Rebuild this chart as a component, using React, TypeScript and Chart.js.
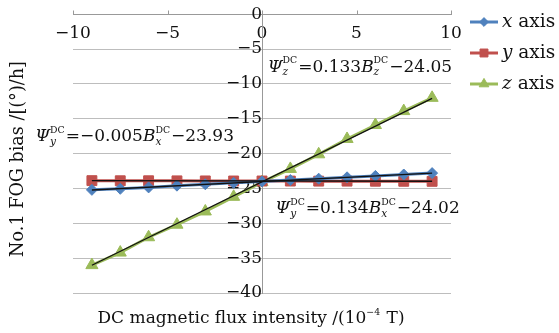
import React, { useEffect, useRef } from "react";
import { Chart, registerables } from "chart.js";
import { drawPoint } from "chart.js/helpers";

Chart.register(...registerables);

// ---- data ----
const fieldValues = [-9, -7.5, -6, -4.5, -3, -1.5, 0, 1.5, 3, 4.5, 6, 7.5, 9];
const xAxisBias = [-25.2, -25.05, -24.85, -24.6, -24.4, -24.2, -24.0, -23.8, -23.6, -23.4, -23.2, -23.0, -22.8];
const yAxisBias = [-23.88, -23.9, -23.9, -23.91, -23.92, -23.93, -23.93, -23.94, -23.95, -23.95, -23.96, -23.97, -23.98];
const zAxisBias = [-36.0, -34.2, -32.0, -30.2, -28.3, -26.2, -24.1, -22.2, -20.1, -17.9, -15.9, -13.9, -12.0];
const trendRange = [-9, 9];
const xTrend = [-25.22, -22.81];
const yTrend = [-23.89, -23.97];
const zTrend = [-36.02, -12.08];
const seriesNames = ["x", "y", "z"];
const xTickStep = 5;
const yTickStep = 5;

const FAMILY = '"DejaVu Serif", serif';
const TEXT = "#111";
const COLORS = ["#4F81BD", "#C0504D", "#9BBB59"];
const STYLES = ["rectRot", "rect", "triangle"];
const RADII = [5.5, 7, 7];

type Part = string | { it: string } | { sup?: string; sub?: string };

function drawRich(ctx: CanvasRenderingContext2D, x: number, y: number, parts: Part[], fs: number, align: "left" | "center" = "left") {
  const measure = () => {
    let w = 0;
    for (const p of parts) {
      if (typeof p === "string") {
        ctx.font = `${fs}px ${FAMILY}`;
        w += ctx.measureText(p).width;
      } else if ("it" in p) {
        ctx.font = `italic ${fs}px ${FAMILY}`;
        w += ctx.measureText(p.it).width;
      } else {
        ctx.font = `${fs * 0.55}px ${FAMILY}`;
        const w1 = p.sup ? ctx.measureText(p.sup).width : 0;
        ctx.font = `italic ${fs * 0.62}px ${FAMILY}`;
        const w2 = p.sub ? ctx.measureText(p.sub).width : 0;
        w += Math.max(w1, w2) + 1;
      }
    }
    return w;
  };
  let cx = align === "center" ? x - measure() / 2 : x;
  ctx.textBaseline = "middle";
  ctx.textAlign = "left";
  ctx.fillStyle = TEXT;
  for (const p of parts) {
    if (typeof p === "string") {
      ctx.font = `${fs}px ${FAMILY}`;
      ctx.fillText(p, cx, y);
      cx += ctx.measureText(p).width;
    } else if ("it" in p) {
      ctx.font = `italic ${fs}px ${FAMILY}`;
      ctx.fillText(p.it, cx, y);
      cx += ctx.measureText(p.it).width;
    } else {
      let w1 = 0;
      let w2 = 0;
      if (p.sup) {
        ctx.font = `${fs * 0.55}px ${FAMILY}`;
        ctx.fillText(p.sup, cx, y - fs * 0.38);
        w1 = ctx.measureText(p.sup).width;
      }
      if (p.sub) {
        ctx.font = `italic ${fs * 0.62}px ${FAMILY}`;
        ctx.fillText(p.sub, cx, y + fs * 0.3);
        w2 = ctx.measureText(p.sub).width;
      }
      cx += Math.max(w1, w2) + 1;
    }
  }
}

const annotations: { x: number; y: number; parts: Part[] }[] = [
  { x: 0.3, y: -7.6, parts: [{ it: "Ψ" }, { sup: "DC", sub: "z" }, "=0.133", { it: "B" }, { sup: "DC", sub: "z" }, "−24.05"] },
  { x: -12.0, y: -17.6, parts: [{ it: "Ψ" }, { sup: "DC", sub: "y" }, "=−0.005", { it: "B" }, { sup: "DC", sub: "x" }, "−23.93"] },
  { x: 0.7, y: -27.9, parts: [{ it: "Ψ" }, { sup: "DC", sub: "y" }, "=0.134", { it: "B" }, { sup: "DC", sub: "x" }, "−24.02"] },
];

const overlay = {
  id: "overlay",
  afterDraw(chart: any) {
    const ctx: CanvasRenderingContext2D = chart.ctx;
    const xs = chart.scales.x;
    const ys = chart.scales.y;
    ctx.save();
    // tick marks on x axis (pointing up)
    const y0 = Math.round(ys.getPixelForValue(0)) + 0.5;
    ctx.strokeStyle = "#999";
    ctx.lineWidth = 1;
    for (let v = xs.min; v <= xs.max; v += xTickStep) {
      const px = Math.round(xs.getPixelForValue(v)) + 0.5;
      ctx.beginPath();
      ctx.moveTo(px, y0);
      ctx.lineTo(px, y0 - 4);
      ctx.stroke();
    }
    // annotations
    for (const a of annotations) {
      drawRich(ctx, xs.getPixelForValue(a.x), ys.getPixelForValue(a.y), a.parts, 17);
    }
    // legend
    const lx = chart.chartArea.right + 19;
    seriesNames.forEach((n, i) => {
      const ly = 22 + i * 31;
      ctx.strokeStyle = COLORS[i];
      ctx.lineWidth = 3;
      ctx.beginPath();
      ctx.moveTo(lx, ly);
      ctx.lineTo(lx + 28, ly);
      ctx.stroke();
      ctx.fillStyle = COLORS[i];
      ctx.strokeStyle = COLORS[i];
      ctx.lineWidth = 1;
      drawPoint(ctx, { pointStyle: STYLES[i], radius: RADII[i] * 0.8, rotation: 0, borderWidth: 1 } as any, lx + 14, ly);
      drawRich(ctx, lx + 32, ly, [{ it: n }, " axis"], 18.5);
    });
    // axis titles
    drawRich(ctx, 251, 319, ["DC magnetic flux intensity /(10", { sup: "−4" }, " T)"], 17, "center");
    ctx.save();
    ctx.translate(18, 159);
    ctx.rotate(-Math.PI / 2);
    drawRich(ctx, 0, 0, ["No.1 FOG bias /[(°)/h]"], 17.6, "center");
    ctx.restore();
    ctx.restore();
  },
};

const fmt = (v: any) => (Number(v) < 0 ? "−" + Math.abs(Number(v)) : String(v));

export default function App() {
  const ref = useRef<HTMLCanvasElement | null>(null);
  useEffect(() => {
    if (!ref.current) return;
    const pts = (vals: number[]) => fieldValues.map((x, i) => ({ x, y: vals[i] }));
    const tr = (vals: number[]) => trendRange.map((x, i) => ({ x, y: vals[i] }));
    const series = [xAxisBias, yAxisBias, zAxisBias];
    const trends = [xTrend, yTrend, zTrend];
    const datasets: any[] = [];
    trends.forEach((t, i) => {
      datasets.push({
        label: seriesNames[i] + " trend",
        data: tr(t),
        showLine: true,
        borderColor: "#111",
        borderWidth: 1.3,
        pointRadius: 0,
        order: 0,
      });
    });
    series.forEach((s, i) => {
      datasets.push({
        label: seriesNames[i] + " axis",
        data: pts(s),
        showLine: true,
        borderColor: COLORS[i],
        backgroundColor: COLORS[i],
        borderWidth: 3,
        pointStyle: STYLES[i],
        pointRadius: RADII[i],
        pointBorderWidth: 1,
        order: 1,
      });
    });
    const chart = new Chart(ref.current, {
      type: "scatter",
      data: { datasets },
      plugins: [overlay],
      options: {
        animation: false,
        responsive: false,
        devicePixelRatio: 1,
        layout: { padding: { left: 73, right: 108, top: 14, bottom: 40 } },
        plugins: { legend: { display: false }, tooltip: { enabled: false }, title: { display: false } },
        scales: {
          x: {
            type: "linear",
            min: -10,
            max: 10,
            position: { y: 0 } as any,
            grid: { drawOnChartArea: false, drawTicks: false },
            border: { display: true, color: "#999", width: 1 },
            ticks: { stepSize: xTickStep, color: TEXT, font: { family: FAMILY, size: 17 }, padding: 9, callback: fmt, maxRotation: 0 },
          },
          y: {
            type: "linear",
            min: -40,
            max: 0,
            position: { x: 0 } as any,
            grid: { color: "#bdbdbd", drawTicks: false },
            border: { display: true, color: "#999", width: 1 },
            ticks: { stepSize: yTickStep, color: TEXT, font: { family: FAMILY, size: 17 }, padding: 4, callback: fmt, autoSkip: false },
          },
        },
      },
    });
    return () => chart.destroy();
  }, []);
  return (
    <div style={{ position: "absolute", left: 0, top: 0, width: 559, height: 333, background: "#fff" }}>
      <canvas ref={ref} width={559} height={333} style={{ width: 559, height: 333 }} />
    </div>
  );
}
